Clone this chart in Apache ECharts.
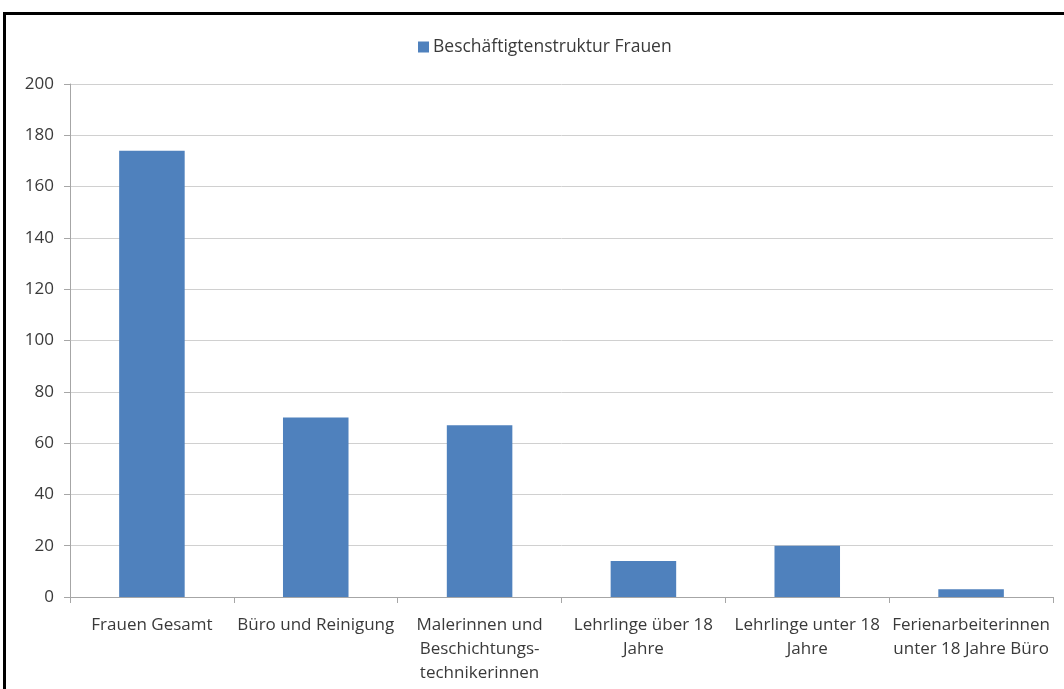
<!DOCTYPE html>
<html>
<head>
<meta charset="utf-8">
<script src="https://cdn.jsdelivr.net/npm/echarts@6/dist/echarts.min.js"></script>
<style>
  html, body { margin: 0; padding: 0; background: #fff; overflow: hidden; }
  #frame { position: absolute; left: 3px; top: 12px; width: 1100px; height: 720px; border: 3px solid #000; box-sizing: border-box; }
  #chart { position: absolute; left: 0; top: 0; width: 1064px; height: 689px; }
</style>
</head>
<body>
<div id="frame"></div>
<div id="chart"></div>
<script>
var seriesName = 'Beschäftigtenstruktur Frauen';
var categories = [
  'Frauen Gesamt',
  'Büro und Reinigung',
  'Malerinnen und\nBeschichtungs-\ntechnikerinnen',
  'Lehrlinge über 18\nJahre',
  'Lehrlinge unter 18\nJahre',
  'Ferienarbeiterinnen\nunter 18 Jahre Büro'
];
var values = [174, 70, 67, 14, 20, 3];

var myChart = echarts.init(document.getElementById('chart'));
var option = {
  animation: false,
  textStyle: { fontFamily: 'Open Sans', color: '#3a3a3a' },
  color: ['#4f81bd'],
  legend: {
    top: 33,
    left: 413,
    itemWidth: 11,
    itemHeight: 11,
    icon: 'rect',
    itemGap: 4,
    textStyle: { fontSize: 17.5, color: '#3a3a3a', fontFamily: 'Open Sans', padding: [0, 0, 0, -1] },
    data: [seriesName]
  },
  grid: { left: 70, right: 11, top: 84, bottom: 92 },
  xAxis: {
    type: 'category',
    data: categories,
    axisLine: { lineStyle: { color: '#a6a6a6' } },
    axisTick: { show: true, length: 6, lineStyle: { color: '#a6a6a6' } },
    axisLabel: { interval: 0, fontSize: 17, lineHeight: 24, margin: 16, color: '#3a3a3a' }
  },
  yAxis: {
    type: 'value',
    min: 0,
    max: 200,
    interval: 20,
    axisLine: { show: true, lineStyle: { color: '#a6a6a6' } },
    axisTick: { show: true, length: 6, lineStyle: { color: '#a6a6a6' } },
    axisLabel: { fontSize: 17, margin: 16, color: '#3a3a3a' },
    splitLine: { lineStyle: { color: '#d0d0d0' } }
  },
  series: [{
    name: seriesName,
    type: 'bar',
    barWidth: '40%',
    data: values
  }]
};
myChart.setOption(option);
</script>
</body>
</html>
